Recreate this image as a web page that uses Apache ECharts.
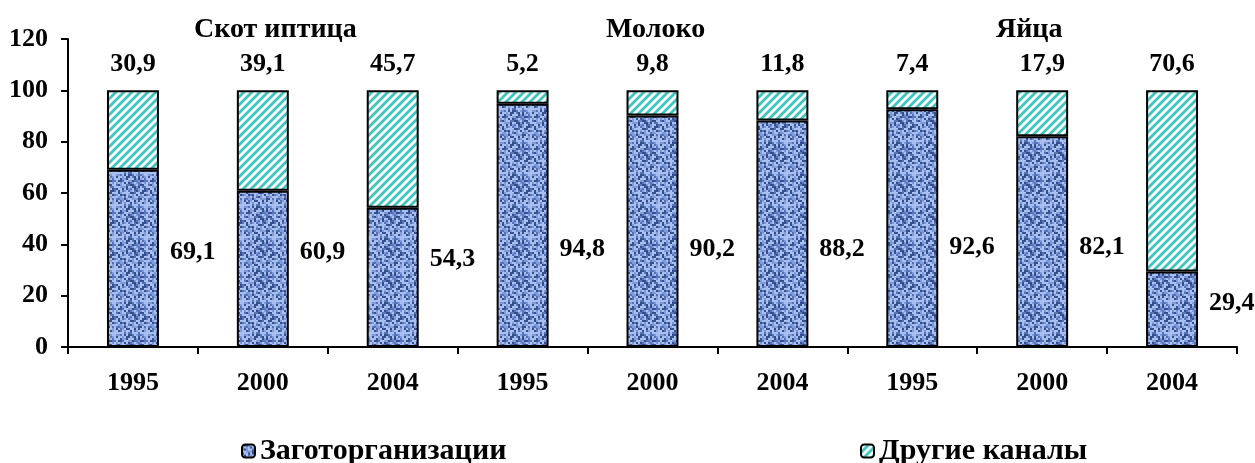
<!DOCTYPE html>
<html><head><meta charset="utf-8">
<script src="https://cdn.jsdelivr.net/npm/echarts@6/dist/echarts.min.js"></script>
<style>html,body{margin:0;padding:0;background:#fff}#c{width:1255px;height:463px}</style>
</head><body><div id="c"></div>
<script>
const years = ['1995','2000','2004','1995','2000','2004','1995','2000','2004'];
const groups = ['Скот иптица','Молоко','Яйца'];
const seriesNames = ['Заготорганизации','Другие каналы'];
const procurement = [69.1, 60.9, 54.3, 94.8, 90.2, 88.2, 92.6, 82.1, 29.4];
const otherChannels = [30.9, 39.1, 45.7, 5.2, 9.8, 11.8, 7.4, 17.9, 70.6];
const yTicks = {min: 0, max: 120, interval: 20};
// vertical level (in axis units) at which the side labels of the lower segments sit
const sideLabelLevel = [37, 37, 34.3, 38.2, 38.2, 38.2, 39, 39, 17.1];

function bluePattern() {
  const n = 16, s = 2;
  const c = document.createElement('canvas'); c.width = n*s; c.height = n*s;
  const g = c.getContext('2d');
  const pal = ['#a9c0ee', '#7e9ad8', '#5573b8', '#34508f'];
  for (let y=0;y<n;y++) for (let x=0;x<n;x++){
    const k = ((x*7 + y*11 + (x*y)%5 + ((x^y)&3)) % 9);
    const idx = k < 3 ? 0 : k < 5 ? 1 : k < 7 ? 2 : 3;
    g.fillStyle = pal[idx]; g.fillRect(x*s,y*s,s,s);
  }
  return {image: c, repeat: 'repeat'};
}
function hatchPattern() {
  const s = 8;
  const c = document.createElement('canvas'); c.width = s; c.height = s;
  const g = c.getContext('2d');
  g.fillStyle = '#ffffff'; g.fillRect(0,0,s,s);
  g.strokeStyle = '#3cc6bf'; g.lineWidth = 2.8;
  g.beginPath();
  g.moveTo(-2, s+2); g.lineTo(s+2, -2);
  g.moveTo(-2 - s, s+2); g.lineTo(2, -2);
  g.moveTo(s-2, s+2); g.lineTo(2*s+2, -2);
  g.stroke();
  return {image: c, repeat: 'repeat'};
}

const font = 'Liberation Serif';
const fmt = p => String(p.value).replace('.', ',');
const labelStyle = {color: '#000', fontFamily: font, fontWeight: 'bold', fontSize: 26};
const chart = echarts.init(document.getElementById('c'));
chart.setOption({
  animation: false,
  backgroundColor: '#fff',
  textStyle: {fontFamily: font},
  title: groups.map((g, i) => ({
    text: g, left: [189, 601, 991][i], top: 11,
    textStyle: {fontFamily: font, fontWeight: 'bold', fontSize: 28, color: '#000'}
  })),
  legend: [
    {data: [seriesNames[0]], left: 236, top: 431, itemWidth: 13, itemHeight: 13, itemGap: 6,
     textStyle: {fontFamily: font, fontWeight: 'bold', fontSize: 30, color: '#000'}},
    {data: [seriesNames[1]], left: 855, top: 431, itemWidth: 13, itemHeight: 13, itemGap: 6,
     textStyle: {fontFamily: font, fontWeight: 'bold', fontSize: 30, color: '#000'}}
  ],
  grid: {left: 68, right: 18, top: 39, bottom: 116, containLabel: false},
  xAxis: {
    type: 'category', data: years,
    axisLine: {lineStyle: {color: '#000', width: 2}},
    axisTick: {show: true, alignWithLabel: false, length: 7, lineStyle: {color: '#000', width: 2}},
    axisLabel: Object.assign({margin: 23}, labelStyle)
  },
  yAxis: {
    type: 'value', min: yTicks.min, max: yTicks.max, interval: yTicks.interval,
    splitLine: {show: false},
    axisLine: {show: true, lineStyle: {color: '#000', width: 2}},
    axisTick: {show: true, inside: false, length: 7, lineStyle: {color: '#000', width: 2}},
    axisLabel: Object.assign({margin: 20}, labelStyle)
  },
  series: [
    {name: seriesNames[0], type: 'bar', stack: 's', data: procurement, barWidth: '40%',
     itemStyle: {color: bluePattern(), borderColor: '#000', borderWidth: 2},
     label: Object.assign({show: true, position: 'right', distance: 11, formatter: fmt}, labelStyle)},
    {name: seriesNames[1], type: 'bar', stack: 's', data: otherChannels, barWidth: '40%',
     itemStyle: {color: hatchPattern(), borderColor: '#000', borderWidth: 2},
     label: Object.assign({show: true, position: 'top', distance: 13, formatter: fmt}, labelStyle)}
  ]
});
// shift side labels to their level
const lowerData = procurement.map((v, i) => {
  const mid = chart.convertToPixel({xAxisIndex: 0, yAxisIndex: 0}, [i, v / 2])[1];
  const tgt = chart.convertToPixel({xAxisIndex: 0, yAxisIndex: 0}, [i, sideLabelLevel[i]])[1];
  return {value: v, label: {offset: [0, tgt - mid]}};
});
chart.setOption({series: [{data: lowerData}, {}]});
</script></body></html>
